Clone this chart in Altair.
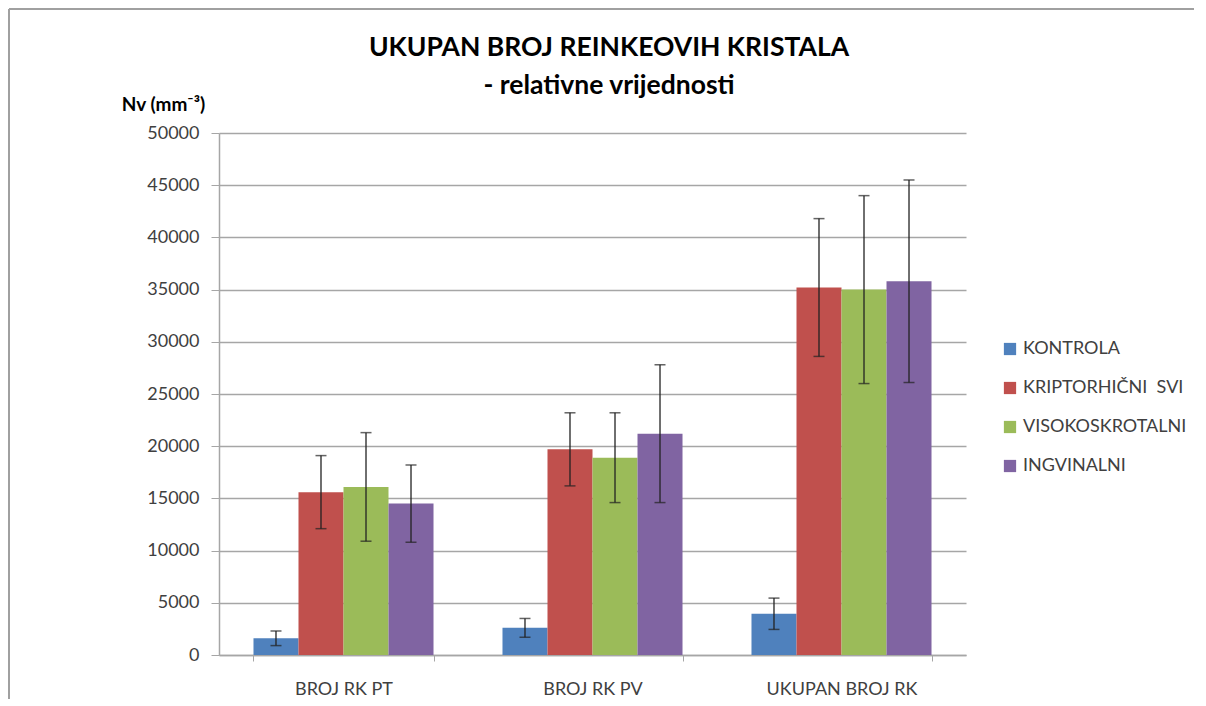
import altair as alt
import pandas as pd

categories = ["BROJ RK PT", "BROJ RK PV", "UKUPAN BROJ RK"]
groups = ["KONTROLA", "KRIPTORHIČNI\u00a0 SVI", "VISOKOSKROTALNI", "INGVINALNI"]
colors = ["#4F81BD", "#C0504D", "#9BBB59", "#8064A2"]
title_lines = ["UKUPAN BROJ REINKEOVIH KRISTALA", "- relativne vrijednosti"]

kontrola = [1600, 2600, 3950]
kontrola_err = [700, 900, 1500]
kriptorhicni = [15600, 19700, 35200]
kriptorhicni_err = [3500, 3500, 6600]
visokoskrotalni = [16100, 18900, 35000]
visokoskrotalni_err = [5200, 4300, 9000]
ingvinalni = [14500, 21200, 35800]
ingvinalni_err = [3700, 6600, 9700]

y_ticks = [0, 5000, 10000, 15000, 20000, 25000, 30000, 35000, 40000, 45000, 50000]

series = [kontrola, kriptorhicni, visokoskrotalni, ingvinalni]
errors = [kontrola_err, kriptorhicni_err, visokoskrotalni_err, ingvinalni_err]
rows = []
for g, vals, errs in zip(groups, series, errors):
    for c, v, e in zip(categories, vals, errs):
        rows.append({"category": c, "group": g, "value": v, "lo": v - e, "hi": v + e})
df = pd.DataFrame(rows)

FONT = "Lato"
GRAY = "#a6a6a6"

x_enc = alt.X(
    "category:N", sort=categories,
    scale=alt.Scale(paddingInner=0.277, paddingOuter=0.1385),
    axis=alt.Axis(title=None, labelAngle=0, tickBand="extent", ticks=True, tickSize=6,
                  tickColor=GRAY, domainColor=GRAY, domainWidth=1.5, labelFont=FONT,
                  labelFontSize=18, labelColor="#404040", labelPadding=19),
)
xo_enc = alt.XOffset("group:N", sort=groups, scale=alt.Scale(paddingInner=0, paddingOuter=0))
y_scale = alt.Scale(domain=[0, 50000], nice=False)

base = alt.Chart(df).encode(x=x_enc, xOffset=xo_enc)

bars = base.mark_bar().encode(
    y=alt.Y("value:Q", scale=y_scale,
            axis=alt.Axis(values=y_ticks, format="d", grid=True, gridColor=GRAY, gridWidth=1.5,
                          domainColor=GRAY, domainWidth=1.5, tickColor=GRAY, tickSize=8,
                          labelFont=FONT, labelFontSize=18, labelColor="#404040", labelPadding=12,
                          title="Nv (mm⁻³)", titleAngle=0, titleAlign="center",
                          titleBaseline="middle", titleX=-56, titleY=-29, titleFont=FONT,
                          titleFontSize=19, titleFontWeight="bold", titleColor="#000000")),
    color=alt.Color("group:N", sort=groups,
                    scale=alt.Scale(domain=groups, range=colors),
                    legend=alt.Legend(title=None, orient="none", legendX=782, legendY=207,
                                      symbolType="square", symbolSize=150, symbolStrokeWidth=0,
                                      labelFont=FONT, labelFontSize=18, labelColor="#404040",
                                      rowPadding=21, labelOffset=4, labelLimit=250)),
)

err_rule = base.mark_rule(color="#222222", strokeWidth=1.3).encode(
    y=alt.Y("lo:Q", scale=y_scale), y2="hi:Q")
cap_lo = base.mark_tick(color="#222222", thickness=1.5, size=11).encode(y=alt.Y("lo:Q", scale=y_scale))
cap_hi = base.mark_tick(color="#222222", thickness=1.5, size=11).encode(y=alt.Y("hi:Q", scale=y_scale))

frame_df = pd.DataFrame({"k": [0]})
border_top = alt.Chart(frame_df).mark_rule(color="#a0a0a0", strokeWidth=2).encode(
    x=alt.value(-210), x2=alt.value(975), y=alt.value(-124))
border_left = alt.Chart(frame_df).mark_rule(color="#a0a0a0", strokeWidth=2).encode(
    x=alt.value(-210), y=alt.value(-124), y2=alt.value(566))

title1 = alt.Chart(frame_df).mark_text(
    text=title_lines[0], font=FONT, fontSize=26.5, fontWeight="bold", color="#000000",
    align="center", baseline="middle").encode(x=alt.value(390), y=alt.value(-85))
title2 = alt.Chart(frame_df).mark_text(
    text=title_lines[1], font=FONT, fontSize=26.5, fontWeight="bold", color="#000000",
    align="center", baseline="middle").encode(x=alt.value(390), y=alt.value(-47))

chart = alt.layer(bars, err_rule, cap_lo, cap_hi, border_top, border_left, title1, title2).properties(
    width=747, height=522, padding=0,
).configure_view(stroke=None)

chart.save("out.html", embed_options={"renderer": "svg", "actions": False})
